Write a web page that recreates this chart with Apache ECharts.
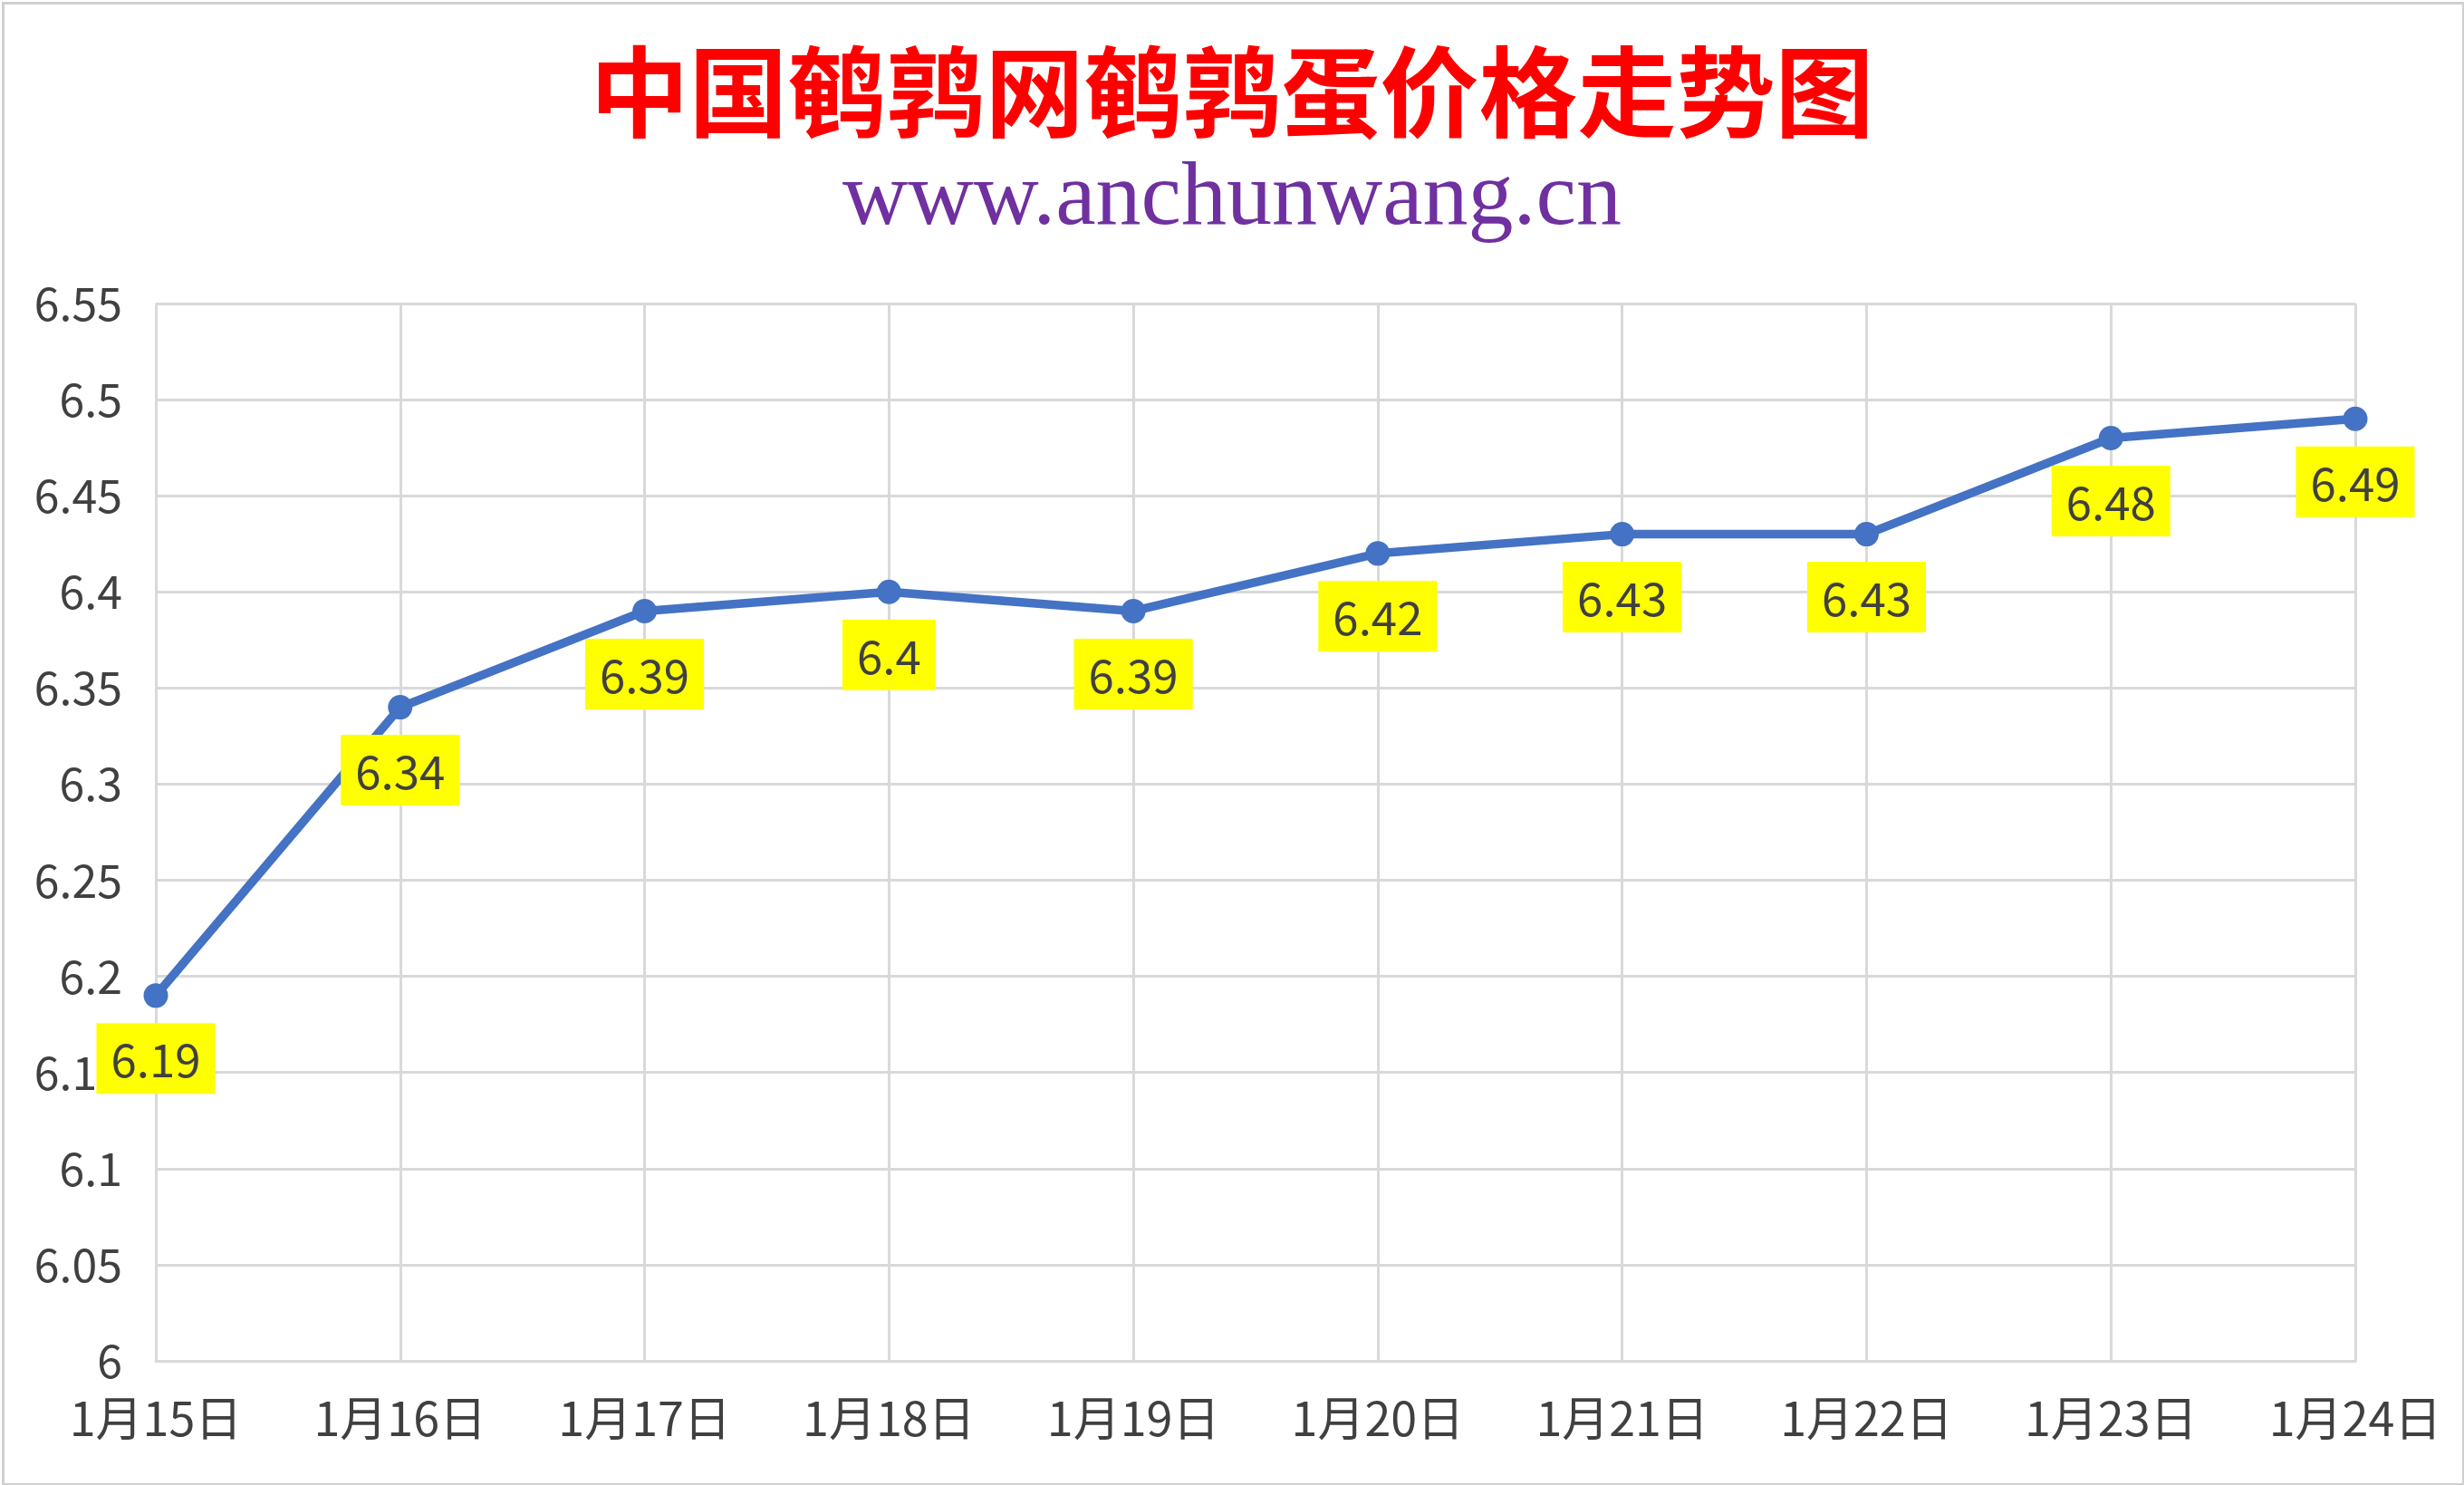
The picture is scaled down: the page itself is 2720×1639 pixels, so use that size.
<!DOCTYPE html>
<html>
<head>
<meta charset="utf-8">
<script src="https://cdn.jsdelivr.net/npm/echarts@6/dist/echarts.min.js"></script>
<style>
html,body{margin:0;padding:0;background:#fff;}
#chart{width:2720px;height:1639px;}
</style>
</head>
<body>
<div id="chart"></div>
<script>
const titleText = '中国鹌鹑网鹌鹑蛋价格走势图';
const subtitleText = 'www.anchunwang.cn';
const categories = ['1月15日','1月16日','1月17日','1月18日','1月19日','1月20日','1月21日','1月22日','1月23日','1月24日'];
const prices = [6.19, 6.34, 6.39, 6.4, 6.39, 6.42, 6.43, 6.43, 6.48, 6.49];
const yMin = 6, yMax = 6.55, yStep = 0.05;

const chart = echarts.init(document.getElementById('chart'), null, {renderer:'canvas'});
const axisFont = '"Noto Sans CJK SC", "Open Sans", sans-serif';
chart.setOption({
  backgroundColor: '#ffffff',
  animation: false,
  title: [
    {
      text: titleText, left: 'center', top: 42,
      textStyle: {color: '#ff0000', fontSize: 109, fontWeight: 'bold', fontFamily: '"Noto Sans CJK SC", serif'}
    },
    {
      text: subtitleText, left: 'center', top: 166,
      textStyle: {color: '#7030a0', fontSize: 100, fontWeight: 'normal', fontFamily: '"Liberation Serif", "DejaVu Serif", serif'}
    }
  ],
  graphic: [{
    type: 'rect', left: 1, top: 1, z: 100, silent: true,
    shape: {width: 2716, height: 1635},
    style: {fill: 'none', stroke: '#d0d0d0', lineWidth: 3}
  }],
  grid: {left: 172, right: 120, top: 335, bottom: 137, containLabel: false},
  xAxis: {
    type: 'category', data: categories, boundaryGap: false,
    axisLine: {show: true, lineStyle: {color: '#d9d9d9', width: 3}},
    axisTick: {show: false},
    splitLine: {show: true, lineStyle: {color: '#d9d9d9', width: 3}},
    axisLabel: {color: '#404040', fontSize: 52, fontFamily: axisFont, margin: 37}
  },
  yAxis: {
    type: 'value', min: yMin, max: yMax, interval: yStep,
    axisLine: {show: false}, axisTick: {show: false},
    splitLine: {show: true, lineStyle: {color: '#d9d9d9', width: 3}},
    axisLabel: {
      color: '#404040', fontSize: 50, fontFamily: axisFont, margin: 37,
      formatter: v => String(parseFloat(v.toFixed(2)))
    }
  },
  series: [{
    type: 'line', data: prices, z: 5,
    symbol: 'circle', symbolSize: 27,
    lineStyle: {color: '#4472c4', width: 9.5},
    itemStyle: {color: '#4472c4'},
    label: {
      show: true, position: 'bottom', distance: 17,
      color: '#404040', fontSize: 51, fontFamily: axisFont,
      backgroundColor: '#ffff00', padding: [15, 16, 12, 16],
      formatter: p => String(p.value)
    }
  }]
});
</script>
</body>
</html>
